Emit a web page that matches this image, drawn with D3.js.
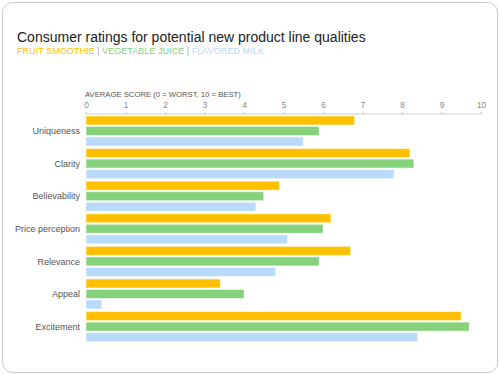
<!DOCTYPE html>
<html>
<head>
<meta charset="utf-8">
<script src="https://cdn.jsdelivr.net/npm/d3@7"></script>
<style>
  body { margin: 0; background: #fff; }
  svg { font-family: "Liberation Sans", Arial, sans-serif; }
</style>
</head>
<body>
<svg id="drawing_region"></svg>
<script>
const categories = ['Uniqueness', 'Clarity', 'Believability', 'Price perception', 'Relevance', 'Appeal', 'Excitement'];
const seriesNames = ['FRUIT SMOOTHIE', 'VEGETABLE JUICE', 'FLAVORED MILK'];
const fruitSmoothie = [6.8, 8.2, 4.9, 6.2, 6.7, 3.4, 9.5];
const vegetableJuice = [5.9, 8.3, 4.5, 6.0, 5.9, 4.0, 9.7];
const flavoredMilk = [5.5, 7.8, 4.3, 5.1, 4.8, 0.4, 8.4];
const xTicks = [0, 1, 2, 3, 4, 5, 6, 7, 8, 9, 10];
const colors = ['#FFC000', '#86D17C', '#B8DAFB'];

const seriesValues = [fruitSmoothie, vegetableJuice, flavoredMilk];
const data = categories.map((c, i) => ({
    category: c,
    values: seriesValues.map((s, j) => ({ key: seriesNames[j], value: s[i] }))
}));

const width = 500, height = 375;
const margin = {top: 114, left: 86, right: 19, bottom: 28};

const svg = d3.select('#drawing_region')
    .attr('width', width)
    .attr('height', height);

// frame
svg.append('rect')
    .attr('x', 2.5).attr('y', 2.5)
    .attr('width', width - 5).attr('height', height - 5)
    .attr('rx', 10)
    .attr('fill', '#fff')
    .attr('stroke', '#c8c8c8');

svg.append('text')
    .attr('x', 17).attr('y', 42)
    .attr('font-size', 14)
    .attr('fill', '#222')
    .text('Consumer ratings for potential new product line qualities');

const legend = svg.append('text')
    .attr('x', 17).attr('y', 54)
    .attr('font-size', 9.1);
seriesNames.forEach((n, i) => {
    if (i > 0) legend.append('tspan').attr('fill', '#aaa').text(' | ');
    legend.append('tspan').attr('fill', colors[i]).text(n);
});

const chart = svg.append('g')
    .attr('transform', `translate(${margin.left}, ${margin.top})`);

const xscale = d3.scaleLinear()
    .domain([0, 10])
    .range([0, 395]);

const yscale = d3.scaleBand()
    .domain(categories)
    .range([0, 32.6 * categories.length])
    .paddingInner(0.08)
    .paddingOuter(0.04)
    .align(0);

const inner = d3.scaleBand()
    .domain(seriesNames)
    .range([0, yscale.bandwidth()])
    .paddingInner(0.15);

// axis title
chart.append('text')
    .attr('x', -1).attr('y', -17)
    .attr('font-size', 7.7)
    .attr('fill', '#555')
    .text('AVERAGE SCORE (0 = WORST, 10 = BEST)');

const xaxis = d3.axisTop(xscale)
    .tickValues(xTicks)
    .tickSize(2)
    .tickPadding(4)
    .tickFormat(d3.format('d'));

const xaxis_group = chart.append('g').call(xaxis);
xaxis_group.select('.domain').attr('stroke', '#ccc').attr('d', `M0,-2V0H${xscale(10)}V-2`);
xaxis_group.selectAll('.tick line').attr('stroke', '#ccc');
xaxis_group.selectAll('.tick text')
    .attr('font-size', 8.3)
    .attr('fill', '#888')
    .attr('font-family', '"Liberation Sans", Arial, sans-serif');

const groups = chart.selectAll('.group')
    .data(data)
    .join('g')
    .attr('transform', d => `translate(0, ${yscale(d.category) + 2})`);

groups.selectAll('rect')
    .data(d => d.values)
    .join('rect')
    .attr('x', 0)
    .attr('y', d => inner(d.key))
    .attr('width', d => xscale(d.value))
    .attr('height', inner.bandwidth())
    .attr('fill', (d, i) => colors[i])
    .attr('stroke', 'rgba(255,255,255,0.5)')
    .attr('stroke-width', 1);

groups.append('text')
    .attr('x', -6)
    .attr('y', inner('VEGETABLE JUICE') + inner.bandwidth() / 2)
    .attr('dy', '0.35em')
    .attr('text-anchor', 'end')
    .attr('font-size', 9)
    .attr('fill', '#555')
    .text(d => d.category);
</script>
</body>
</html>
